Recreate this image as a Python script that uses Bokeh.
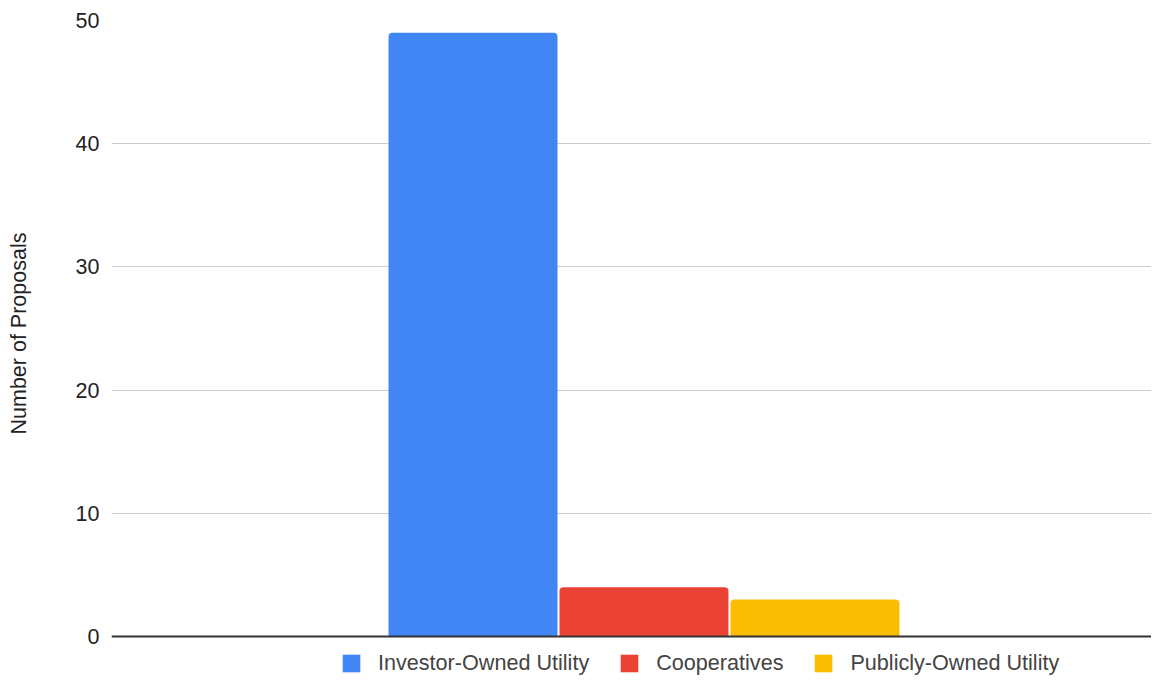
from bokeh.plotting import figure
from bokeh.models import (ColumnDataSource, FactorRange, Range1d, FixedTicker, Span, Legend,
                          LegendItem, Title, LinearAxis)
from bokeh.transform import dodge
from bokeh.embed import file_html
from bokeh.resources import INLINE

# ---- data ----
groups = [""]
series = ["Investor-Owned Utility", "Cooperatives", "Publicly-Owned Utility"]
values_investor = [49]
values_coop = [4]
values_public = [3]
colors = ["#4285F4", "#EA4335", "#FBBC04"]
y_ticks = [0, 10, 20, 30, 40, 50]
y_title = "Number of Proposals"

FONT = "Liberation Sans"

source = ColumnDataSource(data=dict(
    group=groups,
    investor=values_investor,
    coop=values_coop,
    public=values_public,
))

p = figure(
    x_range=FactorRange(*groups),
    y_range=Range1d(-3.247, 50),
    width=1151, height=676,
    min_border_left=111, min_border_right=0, min_border_top=20, min_border_bottom=0,
    output_backend="svg", toolbar_location=None,
)

offsets = [-0.1524, 0.012, 0.1764]
cols = ["investor", "coop", "public"]
renderers = []
for col, off, c in zip(cols, offsets, colors):
    r = p.vbar(x=dodge("group", off, range=p.x_range), top=col, bottom=0, width=0.1625,
               source=source, fill_color=c, line_color=None, border_radius=(4, 4, 0, 0))
    renderers.append(r)

p.add_layout(Span(location=0, dimension="width", line_color="#333333", line_width=2))

p.xaxis.visible = False
p.xgrid.visible = False
p.outline_line_color = None

yax = p.yaxis[0]
yax.ticker = FixedTicker(ticks=y_ticks)
p.ygrid.ticker = FixedTicker(ticks=y_ticks[1:])
p.ygrid.grid_line_color = "#cccccc"
yax.axis_line_color = None
yax.major_tick_line_color = None
yax.minor_tick_line_color = None
yax.major_tick_out = 0
yax.major_tick_in = 0
yax.minor_tick_out = 0
yax.major_label_text_font = FONT
yax.major_label_text_font_size = "21.5px"
yax.major_label_text_color = "#222222"
yax.major_label_standoff = 12

# blank spacer axis (white tick on white) between tick labels and the axis title
spacer = LinearAxis(ticker=FixedTicker(ticks=[-3]), axis_line_color=None,
                    major_tick_line_color="#ffffff", minor_tick_line_color=None,
                    major_tick_out=39, major_tick_in=0, minor_tick_out=0, minor_tick_in=0,
                    major_label_overrides={-3: ""}, major_label_standoff=0)
p.add_layout(spacer, "left")

# y-axis title, centred on the chart as in the reference
p.add_layout(Title(
    text=y_title, align="left", offset=242, standoff=6,
    text_font=FONT, text_font_size="21.5px", text_font_style="normal",
    text_color="#222222",
), "left")

legend = Legend(
    items=[LegendItem(label=s, renderers=[r]) for s, r in zip(series, renderers)],
    orientation="horizontal",
    location=(229, 0),
    border_line_color=None,
    background_fill_alpha=0,
    padding=0, margin=0,
    glyph_width=22, glyph_height=22,
    label_standoff=16, spacing=29,
    label_text_font=FONT, label_text_font_size="21.6px", label_text_color="#444444",
    label_height=22,
)
p.add_layout(legend)

open("out.html", "w").write(file_html(p, INLINE))
